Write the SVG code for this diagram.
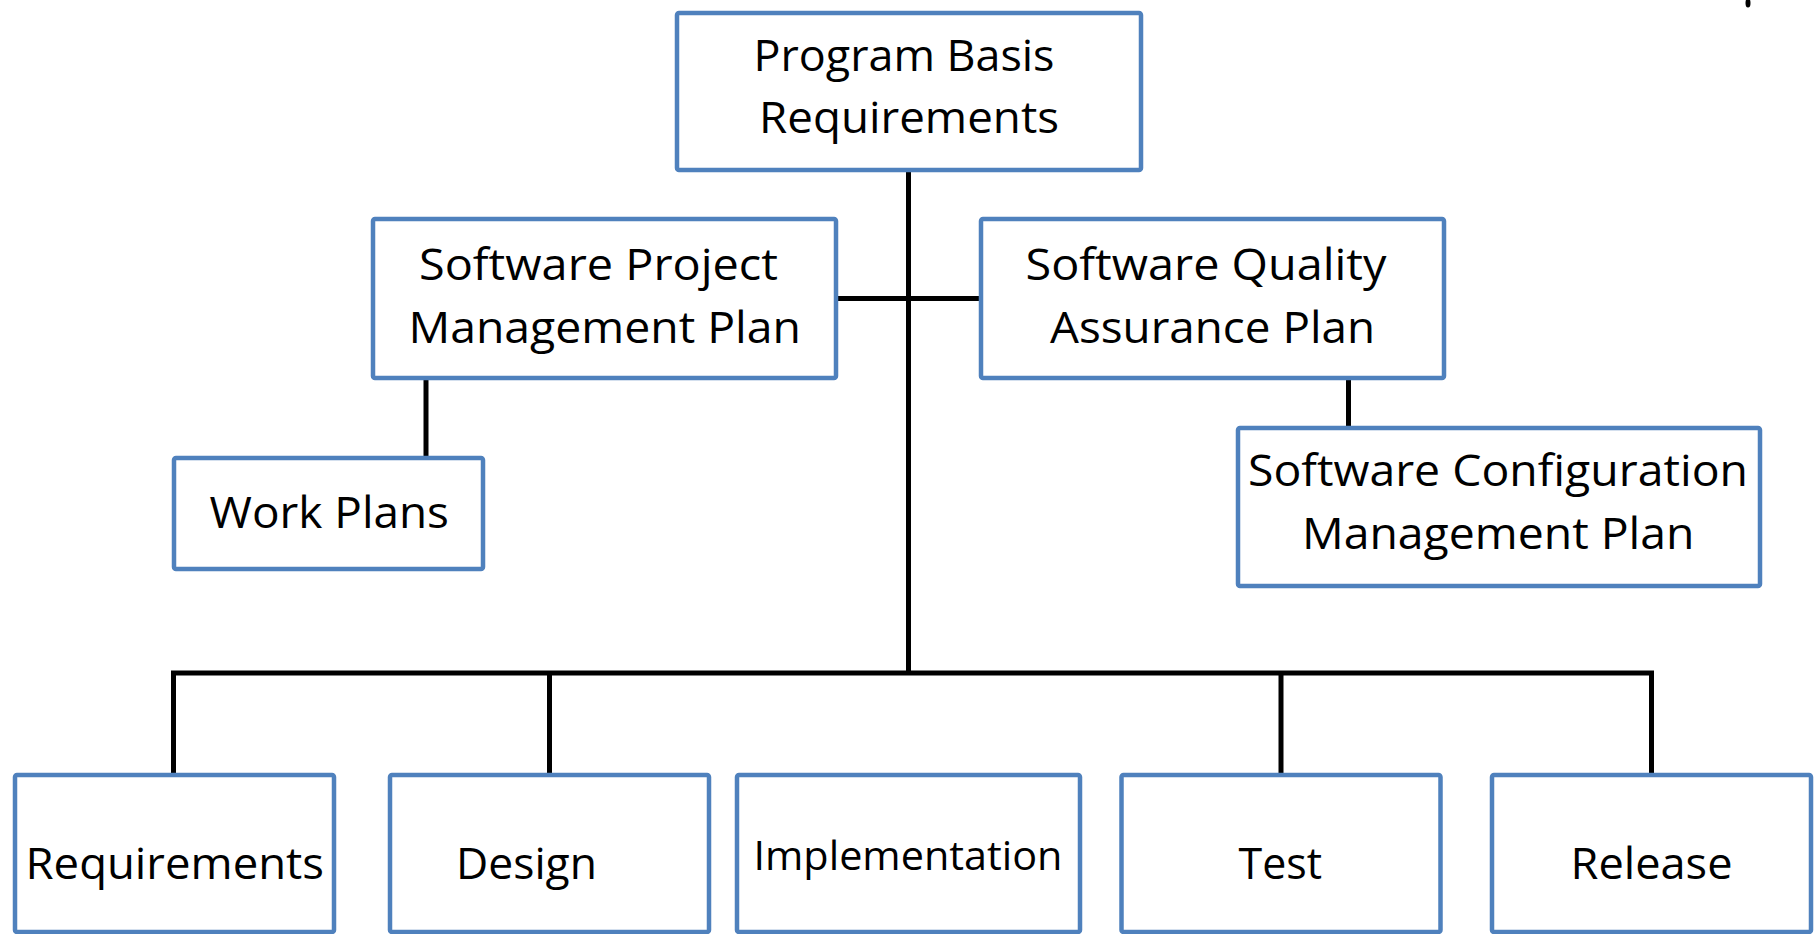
<svg xmlns="http://www.w3.org/2000/svg" width="1815" height="934" viewBox="0 0 1815 934">
<style>
.box{fill:#fff;stroke:#4F81BD;stroke-width:4.5}
.t{font-family:"Open Sans","Noto Sans","Liberation Sans",sans-serif;font-size:44px;fill:#000;text-anchor:start}
.c{stroke:#000;stroke-width:5;fill:none;stroke-linecap:butt}
</style>
<rect width="1815" height="934" fill="#fff"/>
<g id="connectors">
<line class="c" x1="908.5" y1="171" x2="908.5" y2="675"/>
<line class="c" x1="837" y1="298.5" x2="981" y2="298.5"/>
<line class="c" x1="426" y1="378" x2="426" y2="457"/>
<line class="c" x1="1348.5" y1="378" x2="1348.5" y2="427"/>
<polyline class="c" points="173.5,775 173.5,673 1651.5,673 1651.5,775"/>
<line class="c" x1="549.5" y1="673" x2="549.5" y2="775"/>
<line class="c" x1="1281" y1="673" x2="1281" y2="775"/>
</g>
<g id="n-program">
<rect class="box" x="677" y="13" width="464" height="157" rx="2"/>
<text class="t" x="753.5" y="70.5" textLength="301" lengthAdjust="spacingAndGlyphs">Program Basis</text>
<text class="t" x="759" y="133" textLength="300" lengthAdjust="spacingAndGlyphs">Requirements</text>
</g>
<g id="n-spmp">
<rect class="box" x="373" y="219" width="463" height="159" rx="2"/>
<text class="t" x="419" y="280" textLength="359" lengthAdjust="spacingAndGlyphs">Software Project</text>
<text class="t" x="408.5" y="343" textLength="392.5" lengthAdjust="spacingAndGlyphs">Management Plan</text>
</g>
<g id="n-sqap">
<rect class="box" x="981" y="219" width="463" height="159" rx="2"/>
<text class="t" x="1025.5" y="280" textLength="361" lengthAdjust="spacingAndGlyphs">Software Quality</text>
<text class="t" x="1050" y="343" textLength="325" lengthAdjust="spacingAndGlyphs">Assurance Plan</text>
</g>
<g id="n-workplans">
<rect class="box" x="174" y="458" width="309" height="111" rx="2"/>
<text class="t" x="209.5" y="528" textLength="239.5" lengthAdjust="spacingAndGlyphs">Work Plans</text>
</g>
<g id="n-scmp">
<rect class="box" x="1238" y="428" width="522" height="158" rx="2"/>
<text class="t" x="1248" y="486" textLength="500" lengthAdjust="spacingAndGlyphs">Software Configuration</text>
<text class="t" x="1302" y="549" textLength="392.5" lengthAdjust="spacingAndGlyphs">Management Plan</text>
</g>
<g id="n-requirements">
<rect class="box" x="15" y="775" width="319" height="157" rx="2"/>
<text class="t" x="25.5" y="879" textLength="298.5" lengthAdjust="spacingAndGlyphs">Requirements</text>
</g>
<g id="n-design">
<rect class="box" x="390" y="775" width="319" height="157" rx="2"/>
<text class="t" x="456" y="879" textLength="141" lengthAdjust="spacingAndGlyphs">Design</text>
</g>
<g id="n-implementation">
<rect class="box" x="737" y="775" width="343" height="157" rx="2"/>
<text class="t" x="753.5" y="870" style="font-size:40px" textLength="309" lengthAdjust="spacingAndGlyphs">Implementation</text>
</g>
<g id="n-test">
<rect class="box" x="1121.5" y="775" width="319" height="157" rx="2"/>
<text class="t" x="1238.5" y="879" textLength="83.5" lengthAdjust="spacingAndGlyphs">Test</text>
</g>
<g id="n-release">
<rect class="box" x="1492" y="775" width="319" height="157" rx="2"/>
<text class="t" x="1570.5" y="879" textLength="162" lengthAdjust="spacingAndGlyphs">Release</text>
</g>
<ellipse cx="1748" cy="3" rx="2.5" ry="4.5" fill="#000"/>
</svg>
